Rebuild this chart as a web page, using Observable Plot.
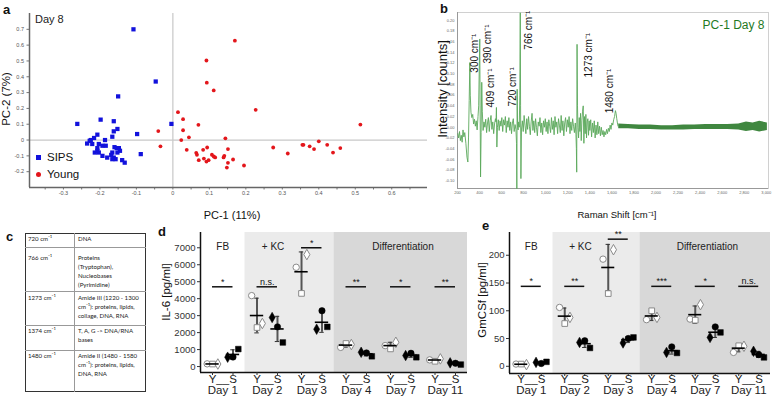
<!DOCTYPE html>
<html><head><meta charset="utf-8">
<script src="https://cdn.jsdelivr.net/npm/d3@7"></script>
<script src="https://cdn.jsdelivr.net/npm/@observablehq/plot@0.6"></script>
<style>
body{margin:0;background:#fff;font-family:"Liberation Sans",Arial,sans-serif;}
#root{position:relative;width:774px;height:400px;overflow:hidden;background:#fff;}
.abs{position:absolute;white-space:nowrap;line-height:1;color:#111;}
</style></head>
<body><div id="root"></div>
<script>
// ---------- Panel a: PCA scores ----------
const sipsPC = [[-0.108,0.700],[-0.047,0.370],[-0.150,0.276],[-0.262,0.102],[-0.198,0.129],[-0.162,0.119],[-0.152,0.070],[-0.162,0.055],[-0.166,0.021],[-0.098,0.038],[-0.004,0.102],[-0.207,0.034],[-0.216,0.013],[-0.225,0.000],[-0.228,-0.005],[-0.235,-0.022],[-0.221,-0.025],[-0.186,0.000],[-0.203,-0.025],[-0.193,-0.036],[-0.184,-0.036],[-0.207,-0.051],[-0.214,-0.079],[-0.203,-0.079],[-0.207,-0.068],[-0.193,-0.100],[-0.180,-0.111],[-0.166,-0.079],[-0.162,-0.111],[-0.154,-0.051],[-0.148,-0.051],[-0.145,-0.068],[-0.152,-0.079],[-0.169,-0.094],[-0.157,-0.121],[-0.166,-0.121],[-0.139,-0.127],[-0.132,-0.143],[-0.088,-0.089],[-0.160,-0.045]];
const youngPC = [[0.170,0.628],[0.092,0.503],[0.093,0.363],[0.112,0.314],[0.227,0.191],[0.014,0.176],[0.028,0.132],[0.070,0.096],[-0.040,0.057],[0.028,0.062],[0.044,0.017],[0.023,0.000],[-0.034,-0.040],[0.144,0.011],[0.514,0.098],[0.038,-0.062],[0.064,-0.081],[0.066,-0.093],[0.071,-0.127],[0.083,-0.062],[0.094,-0.047],[0.085,-0.117],[0.092,-0.136],[0.098,-0.127],[0.107,-0.093],[0.112,-0.104],[0.116,-0.110],[0.139,-0.110],[0.141,-0.100],[0.151,-0.057],[0.151,-0.144],[0.148,-0.174],[0.165,-0.123],[0.195,-0.161],[0.275,-0.047],[0.315,-0.085],[0.355,-0.030],[0.358,-0.030],[0.375,-0.040],[0.387,-0.057],[0.400,-0.008],[0.423,-0.030],[0.439,-0.079],[0.459,-0.051]];
const pcXTicks = [-0.3,-0.2,-0.1,0,0.1,0.2,0.3,0.4,0.5,0.6];
const pcYTicks = [-0.2,-0.1,0,0.1,0.2,0.3,0.4,0.5,0.6,0.7];

// ---------- Panel b: PC-1 loading spectrum ----------
const ramanShift = [
 203,210,218,226,234,242,250,258,266,276,
 286,294,300,306,312,316,322,330,338,346,
 354,362,370,378,386,392,398,402,405,409,
 414,420,425,432,440,448,456,464,472,480,
 488,496,504,512,520,528,536,544,549,553,
 557,562,570,578,586,594,602,610,618,626,
 634,642,650,658,666,674,682,690,698,706,
 714,722,730,735,738,741,745,750,755,760,
 765,769,772,775,780,788,796,804,812,820,
 828,836,844,852,860,868,876,884,892,900,
 908,916,924,932,940,948,956,964,972,980,
 988,996,1004,1012,1020,1028,1036,1044,1052,1060,
 1068,1076,1084,1092,1100,1108,1116,1124,1132,1140,
 1148,1156,1164,1172,1180,1188,1196,1204,1212,1220,
 1228,1236,1244,1252,1260,1268,1274,1278,1281,1284,
 1288,1292,1298,1304,1310,1316,1322,1328,1334,1340,
 1346,1352,1358,1364,1370,1376,1382,1388,1394,1400,
 1408,1416,1424,1432,1440,1448,1456,1464,1472,1480,
 1488,1496,1504,1512,1520,1528,1536,1544,1552,1560,
 1568,1576,1584,1592,1600,1608,1616,1624,1632,1638,
 1644,1650,1656,1662];
const intensity = [
 -0.012,-0.020,-0.008,-0.025,-0.015,-0.028,-0.005,-0.018,-0.010,-0.030,
 -0.056,-0.065,-0.020,0.050,0.121,0.060,0.028,0.018,0.024,0.006,
 0.015,0.002,0.012,-0.005,0.020,0.040,0.120,0.165,0.040,-0.093,
 -0.010,0.084,0.030,-0.006,0.010,0.000,0.015,-0.010,0.008,0.018,
 -0.008,0.012,0.022,-0.004,0.010,-0.012,0.006,0.016,0.010,0.037,
 -0.037,0.000,0.014,-0.006,0.012,0.002,0.018,-0.008,0.014,0.004,
 0.020,-0.010,0.012,0.000,0.018,-0.006,0.010,-0.012,0.008,0.016,
 -0.008,0.005,-0.004,-0.030,-0.115,0.071,0.000,-0.005,0.010,0.000,
 0.060,0.214,0.040,-0.096,-0.005,0.012,-0.008,0.022,0.004,-0.012,
 0.016,-0.004,0.020,0.002,-0.014,0.010,0.026,-0.006,0.012,-0.010,
 0.016,0.000,-0.016,0.010,0.002,0.018,-0.010,0.008,-0.014,0.012,
 0.000,0.016,-0.008,0.010,-0.012,0.014,0.002,-0.010,0.018,-0.004,
 0.012,-0.014,0.020,0.000,0.010,-0.012,0.016,0.004,-0.010,0.022,
 -0.006,0.012,-0.016,0.008,0.018,-0.008,0.014,0.000,0.020,-0.012,
 0.010,-0.006,0.016,0.002,-0.010,0.008,-0.014,-0.040,-0.084,0.155,
 0.040,0.000,-0.020,0.018,-0.008,0.026,-0.025,0.012,0.030,0.040,
 -0.030,0.020,-0.012,0.024,-0.020,0.010,0.016,-0.015,0.012,-0.006,
 0.014,-0.018,0.008,-0.010,0.012,-0.020,0.004,-0.014,0.010,-0.012,
 0.002,-0.016,0.000,-0.014,-0.006,-0.018,-0.008,-0.014,-0.004,-0.012,
 -0.002,-0.008,0.004,-0.004,0.008,0.004,0.014,0.020,0.031,0.026,
 0.016,0.008,0.002,0.004];
const bandShift = [1662,1750,1850,1950,2050,2150,2250,2350,2450,2550,2650,2750,2820,2880,2940,3010];
const bandHigh  = [0.006,0.005,0.004,0.004,0.003,0.003,0.004,0.004,0.005,0.005,0.005,0.006,0.010,0.008,0.011,0.008];
const bandLow   = [-0.003,-0.003,-0.004,-0.004,-0.005,-0.005,-0.005,-0.004,-0.004,-0.004,-0.004,-0.005,-0.008,-0.006,-0.009,-0.006];
const peakLabelText = ["300 cm⁻¹","390 cm⁻¹","409 cm⁻¹","720 cm⁻¹","766 cm⁻¹","1273 cm⁻¹","1480 cm⁻¹"];
const peakLabelX = [354,472,499,698,843,1387,1577];
const peakLabelY = [0.102,0.119,0.037,0.039,0.145,0.093,0.026];
const ramanXTicks = d3.range(200, 3001, 200);
const ramanYTicks = [-0.10,-0.08,-0.06,-0.04,-0.02,0,0.02,0.04,0.06,0.08,0.10,0.12,0.14,0.16,0.18,0.20];

// ---------- Panel c: band assignment table ----------
const tableBands = ["720 cm⁻¹","766 cm⁻¹","1273 cm⁻¹","1374 cm⁻¹","1480 cm⁻¹"];
const tableAssign = [
 ["DNA"],
 ["Proteins","(Tryptophan),","Nucleobases","(Pyrimidine)"],
 ["Amide III (1220 - 1300","cm⁻¹): proteins, lipids,","collage, DNA, RNA"],
 ["T, A, G -> DNA/RNA","bases"],
 ["Amide II (1480 - 1580","cm⁻¹): proteins, lipids,","DNA, RNA"]];

// ---------- Panels d, e: cytokines ----------
const days = ["Day 1","Day 2","Day 3","Day 4","Day 7","Day 11"];
const shapes = ["circle","diamond","square"];       // donor markers
const phases = ["FB","+ KC","Differentiation"];
const phaseFirstDay = [0,1,3], phaseLastDay = [0,2,5];
// values per day: [circle, diamond, square]
const il6Young = [[160,150,150],[4180,2540,2300],[5850,6600,4310],[1130,1300,1360],[1235,1430,1040],[394,453,312]];
const il6Sips  = [[560,550,1030],[2340,2890,1420],[3290,2200,2340],[805,840,605],[782,647,547],[194,218,118]];
const il6Sig   = ["*","n.s.","*","**","*","**"];
const il6SigY  = [4700,4700,7000,4700,4700,4700];
const il6Ticks = [0,1000,2000,3000,4000,5000,6000,7000];
const gmYoung  = [[4,3,4],[106,88,77],[193,210,131],[84,88,100],[85,111,83],[25,36,37]];
const gmSips   = [[5,7,8],[46,43,33],[50,42,52],[35,25,24],[71,52,61],[21,27,16]];
const gmSig    = ["*","**","**","***","*","n.s."];
const gmSigY   = [144,144,229,144,144,144];
const gmTicks  = [0,50,100,150,200];

// ================= rendering =================
const root = document.getElementById("root");
const FONT = "'Liberation Sans', Arial, sans-serif";
function place(svg, left, top) {
  svg.style.position = "absolute"; svg.style.left = left + "px"; svg.style.top = top + "px";
  root.appendChild(svg);
}
function txt(t, x, y, o = {}) {
  const d = document.createElement("div");
  d.className = "abs"; d.textContent = t;
  d.style.left = x + "px"; d.style.top = y + "px";
  d.style.fontSize = (o.size || 12) + "px";
  d.style.fontFamily = o.family || FONT;
  if (o.weight) d.style.fontWeight = o.weight;
  if (o.color) d.style.color = o.color;
  const tx = o.anchor === "start" ? "0" : "-50%";
  d.style.transform = `translate(${tx},-50%)` + (o.rotate ? ` rotate(${o.rotate}deg)` : "");
  root.appendChild(d);
  return d;
}
const baseStyle = {background: "transparent", overflow: "visible", fontFamily: FONT, color: "#333"};
const fmt1 = d => Math.abs(d) < 1e-9 ? "0" : d3.format(".1f")(d).replace("−", "-");

// ----- a -----
const pa = Plot.plot({
  width: 440, height: 200, marginLeft: 29, marginRight: 13, marginTop: 13, marginBottom: 13,
  x: {domain: [-0.393, 0.698], label: null}, y: {domain: [-0.3, 0.8], label: null},
  style: baseStyle,
  marks: [
    Plot.ruleX([0], {stroke: "#c8c8c8", strokeWidth: 1.2}),
    Plot.ruleY([0], {stroke: "#c8c8c8", strokeWidth: 1.2}),
    Plot.axisX({ticks: d3.range(-0.35, 0.66, 0.05), tickSize: 2.5, tickFormat: () => "", stroke: "#777", label: null}),
    Plot.axisX({ticks: pcXTicks, tickSize: 0, tickPadding: 4, fontSize: 5.5, fill: "#555", tickFormat: fmt1, label: null}),
    Plot.axisY({ticks: pcYTicks, tickSize: 2.5, tickPadding: 3, fontSize: 5.5, fill: "#555", stroke: "#777", tickFormat: fmt1, label: null}),
    Plot.ruleX([-0.393], {stroke: "#666", strokeWidth: 1.5}),
    Plot.ruleY([-0.3], {stroke: "#666", strokeWidth: 1.5}),
    Plot.dot(sipsPC, {x: d => d[0], y: d => d[1], symbol: "square", r: 2.4, fill: "#1212dc"}),
    Plot.dot(youngPC, {x: d => d[0], y: d => d[1], r: 1.9, fill: "#e3161b"})
  ]
});
place(pa, 0, 0);
txt("Day 8", 35, 19, {size: 11, anchor: "start", color: "#222"});
txt("PC-2 (7%)", 7, 99, {size: 11.5, rotate: -90});
txt("PC-1 (11%)", 232, 215, {size: 11});
// legend
const sq = document.createElement("div");
Object.assign(sq.style, {position: "absolute", left: "36px", top: "155px", width: "5px", height: "5px", background: "#1212dc"});
root.appendChild(sq);
const ci = document.createElement("div");
Object.assign(ci.style, {position: "absolute", left: "36px", top: "172px", width: "5px", height: "5px", borderRadius: "50%", background: "#e3161b"});
root.appendChild(ci);
txt("SIPS", 47, 158, {size: 11.5, anchor: "start"});
txt("Young", 47, 175, {size: 11.5, anchor: "start"});

// ----- b -----
const spec = ramanShift.map((x, i) => ({x, y: intensity[i]}));
const band = bandShift.map((x, i) => ({x, lo: bandLow[i], hi: bandHigh[i]}));
const peaks = peakLabelText.map((t, i) => ({t, x: peakLabelX[i], y: peakLabelY[i]}));
const pb = Plot.plot({
  width: 394, height: 200, marginLeft: 77, marginRight: 6, marginTop: 12, marginBottom: 12,
  x: {domain: [200, 3020], label: null}, y: {domain: [-0.1145, 0.2145], label: null},
  style: baseStyle,
  marks: [
    Plot.frame({stroke: "#d0d0d0"}),
    Plot.ruleX([200], {stroke: "#999"}),
    Plot.ruleY([-0.1145], {stroke: "#999"}),
    Plot.axisY({ticks: ramanYTicks, tickSize: 0, tickPadding: 3, fontSize: 4, fill: "#666", label: null, tickFormat: d => d3.format(".2f")(d).replace("−", "-")}),
    Plot.axisX({ticks: ramanXTicks, tickSize: 0, tickPadding: 3, fontSize: 4, fill: "#666", label: null, tickFormat: d3.format(",")}),
    Plot.areaY(band, {x: "x", y1: "lo", y2: "hi", fill: "#2b7a2b", fillOpacity: 0.9}),
    Plot.line(spec, {x: "x", y: "y", stroke: "#5aa85a", strokeWidth: 0.9}),
    Plot.text(peaks, {x: "x", y: "y", text: "t", rotate: -90, textAnchor: "start", fontSize: 10, fill: "#111"}),
    Plot.text(["PC-1 Day 8"], {frameAnchor: "top-right", dx: -4, dy: 8, text: d => d, fontSize: 12, fill: "#1f7a1f"})
  ]
});
place(pb, 380, 0);
txt("Intensity [counts]", 442, 89, {size: 13, rotate: -90});
txt("Raman Shift [cm⁻¹]", 617, 215, {size: 9.5});

// ----- c -----
(function table() {
  const L = 25, R = 146, T = 233, B = 392, C = 74;
  const rowTop = [233, 247, 291, 325, 350];
  const firstLine = [239, 258, 298, 331, 356];
  const box = document.createElement("div");
  Object.assign(box.style, {position: "absolute", left: L + "px", top: T + "px", width: (R - L) + "px", height: (B - T) + "px", border: "1px solid #333", boxSizing: "border-box"});
  root.appendChild(box);
  const v = document.createElement("div");
  Object.assign(v.style, {position: "absolute", left: C + "px", top: T + "px", width: "1px", height: (B - T) + "px", background: "#999"});
  root.appendChild(v);
  rowTop.slice(1).forEach(y => {
    const h = document.createElement("div");
    Object.assign(h.style, {position: "absolute", left: L + "px", top: y + "px", width: (R - L) + "px", height: "1px", background: "#999"});
    root.appendChild(h);
  });
  tableBands.forEach((b, i) => {
    txt(b, 28, firstLine[i], {size: 6.1, anchor: "start", family: "Lato, sans-serif", color: "#222"});
    tableAssign[i].forEach((line, j) => txt(line, 78, firstLine[i] + 9 * j, {size: 6.1, anchor: "start", family: "Lato, sans-serif", color: "#222"}));
  });
})();

// ----- d, e -----
function cytoPanel(o) {
  const gOff = {Y: -0.23, S: 0.23};
  const jit = {Y: {circle: -1, square: 0, diamond: 1}, S: {diamond: -1, circle: 0, square: 1}};
  const pts = [];
  [["Y", o.young], ["S", o.sips]].forEach(([g, arr]) =>
    arr.forEach((vals, di) => vals.forEach((v, si) => pts.push({day: di, g, shape: shapes[si], v}))));
  const px = d => d.day + gOff[d.g] + 0.12 * jit[d.g][d.shape];
  const stats = [];
  for (const g of ["Y", "S"]) days.forEach((_, di) => {
    const vs = pts.filter(p => p.day === di && p.g === g).map(p => p.v);
    stats.push({x: di + gOff[g], mean: d3.mean(vs), sd: d3.deviation(vs)});
  });
  const [y0, y1] = o.yDomain;
  const fills = ["#ffffff", "#ebebeb", "#d8d8d8"];
  const phaseLabelX = [0, 1.13, 4.05];
  const xTicks = days.flatMap((_, i) => [i + gOff.Y, i + gOff.S]);
  const idx = days.map((_, i) => i);
  return Plot.plot({
    width: o.width, height: o.height, marginLeft: o.ml, marginRight: o.mr, marginTop: o.mt, marginBottom: o.mb,
    x: {domain: [-0.5, days.length - 0.5], label: null}, y: {domain: o.yDomain, label: null},
    symbol: {domain: shapes, range: ["circle", "diamond2", "square"]},
    style: baseStyle,
    marks: [
      ...phases.map((p, i) => Plot.rect([p], {x1: phaseFirstDay[i] - 0.5, x2: phaseLastDay[i] + 0.5, y1: y0, y2: y1, fill: fills[i]})),
      Plot.ruleY(idx, {x1: i => i + gOff.Y, x2: i => i + gOff.S, y: i => o.sigY[i], stroke: "#111", strokeWidth: 1.5}),
      Plot.text(idx, {x: i => i, y: i => o.sigY[i], text: i => o.sig[i], lineAnchor: "bottom", dy: -2, fontSize: 9, fill: "#111"}),
      Plot.ruleX(stats, {x: "x", y1: d => d.mean - d.sd, y2: d => d.mean + d.sd, stroke: "#555", strokeWidth: 2}),
      Plot.ruleY(stats, {x1: d => d.x - 0.05, x2: d => d.x + 0.05, y: d => d.mean + d.sd, stroke: "#333", strokeWidth: 1}),
      Plot.ruleY(stats, {x1: d => d.x - 0.05, x2: d => d.x + 0.05, y: d => d.mean - d.sd, stroke: "#333", strokeWidth: 1}),
      Plot.dot(pts.filter(p => p.g === "Y"), {x: px, y: "v", symbol: "shape", r: 3.2, fill: "white", stroke: "#8a8a8a", strokeWidth: 1}),
      Plot.dot(pts.filter(p => p.g === "S"), {x: px, y: "v", symbol: "shape", r: 3.2, fill: "#000", stroke: "#000", strokeWidth: 0.5}),
      Plot.ruleY(stats, {x1: d => d.x - 0.15, x2: d => d.x + 0.15, y: "mean", stroke: "#000", strokeWidth: 1.6}),
      Plot.ruleX([-0.5], {stroke: "#111", strokeWidth: 1.5}),
      Plot.ruleY([y0], {stroke: "#111", strokeWidth: 1.5}),
      Plot.axisY({ticks: o.yTicks, tickSize: 3, tickPadding: 2, fontSize: 9.5, label: null, tickFormat: d => String(d)}),
      Plot.axisX({ticks: xTicks, tickSize: 3, label: null, tickFormat: () => ""}),
      Plot.text(phases, {x: (d, i) => phaseLabelX[i], text: d => d, frameAnchor: "top", dy: 10, fontSize: 10, fill: "#222"}),
      Plot.text(days, {x: (d, i) => i, text: () => "Y__S", frameAnchor: "bottom", dy: o.dyYS, fontSize: 11.5, fill: "#222"}),
      Plot.text(days, {x: (d, i) => i, text: d => d, frameAnchor: "bottom", dy: o.dyDay, fontSize: 11.5, fill: "#222"})
    ]
  });
}
const pd = cytoPanel({young: il6Young, sips: il6Sips, sig: il6Sig, sigY: il6SigY, yTicks: il6Ticks, yDomain: [-350, 7900],
  width: 310, height: 180, ml: 40, mr: 3, mt: 12, mb: 28, dyYS: 10, dyDay: 21});
place(pd, 160, 220);
const pe = cytoPanel({young: gmYoung, sips: gmSips, sig: gmSig, sigY: gmSigY, yTicks: gmTicks, yDomain: [-13, 241],
  width: 304, height: 180, ml: 39, mr: 4, mt: 12, mb: 27, dyYS: 9, dyDay: 20});
place(pe, 470, 220);
txt("IL-6 [pg/ml]", 167, 292, {size: 11.5, rotate: -90});
txt("GmCSf [pg/ml]", 483, 300, {size: 11.5, rotate: -90});

// panel letters
txt("a", 3, 9, {size: 13, weight: "bold", anchor: "start"});
txt("b", 440, 8, {size: 13, weight: "bold", anchor: "start"});
txt("c", 6, 236, {size: 13, weight: "bold", anchor: "start"});
txt("d", 158, 231, {size: 13, weight: "bold", anchor: "start"});
txt("e", 482, 225, {size: 13, weight: "bold", anchor: "start"});
</script>
</body></html>
